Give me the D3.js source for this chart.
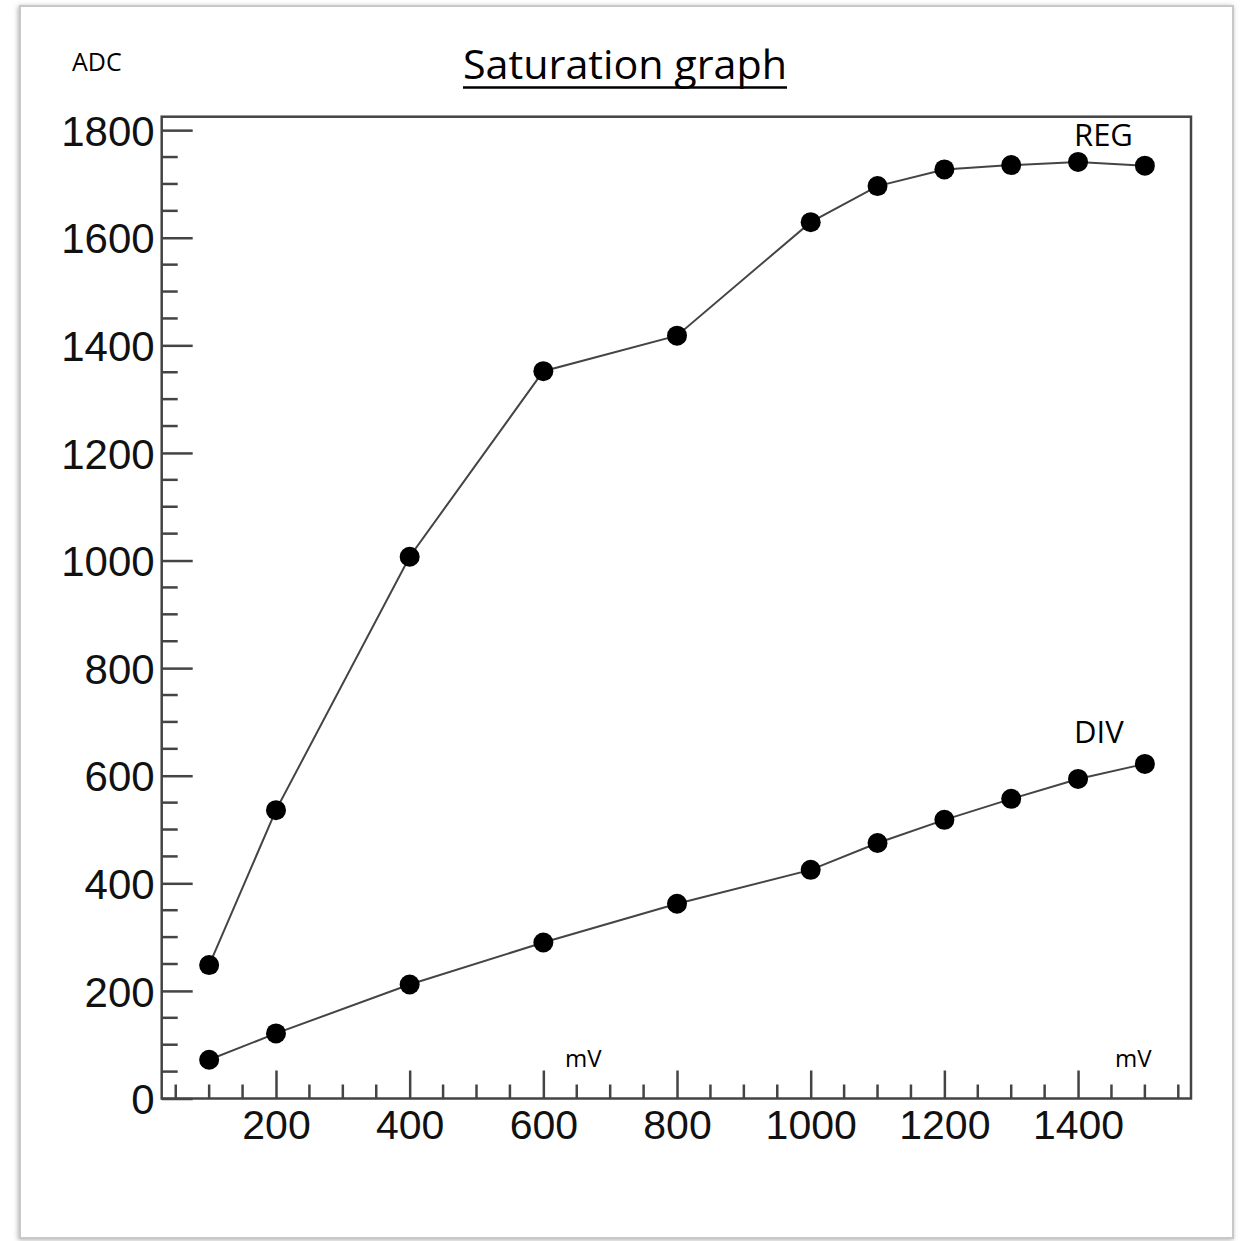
<!DOCTYPE html>
<html>
<head>
<meta charset="utf-8">
<script src="https://cdn.jsdelivr.net/npm/d3@7"></script>
<style>
  html, body { margin: 0; padding: 0; background: #fff; }
  svg { display: block; }
</style>
</head>
<body>
<svg id="svg" width="1245" height="1241"></svg>
<script>
// input voltage (mV)
const voltages = [100, 200, 400, 600, 800, 1000, 1100, 1200, 1300, 1400, 1500];
// ADC readings
const regValues = [248, 536, 1007, 1352, 1418, 1629, 1696, 1727, 1735, 1741, 1734];
const divValues = [72, 121, 212, 290, 362, 425, 475, 518, 557, 594, 622];
const xTickLabels = [200, 400, 600, 800, 1000, 1200, 1400];
const yTickLabels = [0, 200, 400, 600, 800, 1000, 1200, 1400, 1600, 1800];

const svg = d3.select('#svg');

// outer card with soft shadow
const defs = svg.append('defs');
const f = defs.append('filter').attr('id', 'shadow')
  .attr('x', '-5%').attr('y', '-5%').attr('width', '110%').attr('height', '110%');
f.append('feDropShadow').attr('dx', -1).attr('dy', 1).attr('stdDeviation', 2.5)
  .attr('flood-color', '#000').attr('flood-opacity', 0.3);

svg.append('rect')
  .attr('x', 20).attr('y', 6).attr('width', 1213).attr('height', 1232)
  .attr('fill', '#fff').attr('stroke', '#c8c8c8').attr('stroke-width', 2)
  .attr('filter', 'url(#shadow)');

const margin = {top: 116.7, right: 54, bottom: 142.5, left: 161.7};
const width = 1245 - margin.left - margin.right;
const height = 1241 - margin.top - margin.bottom;

const g = svg.append('g')
  .attr('transform', 'translate(' + margin.left + ',' + margin.top + ')');

const x = d3.scaleLinear().domain([29, 1569]).range([0, width]);
const y = d3.scaleLinear().domain([0, 1825]).range([height, 0]);

const axisColor = '#444';
const numFont = '"Liberation Sans", Arial, sans-serif';

// frame
g.append('rect')
  .attr('width', width).attr('height', height)
  .attr('fill', 'none').attr('stroke', axisColor).attr('stroke-width', 2.5);

// minor ticks every 50
const xMinor = d3.range(50, 1569, 50).filter(v => v % 200 !== 0);
const yMinor = d3.range(50, 1825, 50).filter(v => v % 200 !== 0);

g.append('g').selectAll('line').data(xMinor).enter().append('line')
  .attr('x1', d => x(d)).attr('x2', d => x(d))
  .attr('y1', height).attr('y2', height - 14)
  .attr('stroke', axisColor).attr('stroke-width', 2.5);

g.append('g').selectAll('line').data(yMinor).enter().append('line')
  .attr('y1', d => y(d)).attr('y2', d => y(d))
  .attr('x1', 0).attr('x2', 16)
  .attr('stroke', axisColor).attr('stroke-width', 2.5);

// major axes
const fmt = d3.format('d');
const xAxis = g.append('g')
  .attr('transform', 'translate(0,' + height + ')')
  .call(d3.axisBottom(x).tickValues(xTickLabels).tickFormat(fmt)
    .tickSizeInner(-28).tickSizeOuter(0).tickPadding(0));
xAxis.select('.domain').remove();
xAxis.selectAll('.tick line').attr('stroke', axisColor).attr('stroke-width', 2.5);
xAxis.selectAll('.tick text')
  .attr('y', 40).attr('dy', 0)
  .style('font-family', numFont).style('font-size', '41px').attr('fill', '#111');

const yAxis = g.append('g')
  .call(d3.axisLeft(y).tickValues(yTickLabels).tickFormat(fmt)
    .tickSizeInner(-31).tickSizeOuter(0).tickPadding(0));
yAxis.select('.domain').remove();
yAxis.selectAll('.tick line').attr('stroke', axisColor).attr('stroke-width', 2.5);
yAxis.selectAll('.tick text')
  .attr('x', -7).attr('dy', '0.36em')
  .style('font-family', numFont).style('font-size', '42px').attr('fill', '#111');

// series
const line = d3.line().x(d => x(d[0])).y(d => y(d[1]));
const series = [regValues, divValues];

series.forEach(vals => {
  const pts = voltages.map((v, i) => [v, vals[i]]);
  g.append('path').datum(pts)
    .attr('d', line).attr('fill', 'none')
    .attr('stroke', '#444').attr('stroke-width', 2);
  g.append('g').selectAll('circle').data(pts).enter().append('circle')
    .attr('cx', d => x(d[0])).attr('cy', d => y(d[1]))
    .attr('r', 10).attr('fill', '#000');
});

// texts
const textFont = '"Open Sans", "Noto Sans", sans-serif';

const title = svg.append('text')
  .attr('x', 625).attr('y', 79).attr('text-anchor', 'middle')
  .style('font-family', textFont).style('font-size', '40px').attr('fill', '#000')
  .attr('textLength', 324).attr('lengthAdjust', 'spacingAndGlyphs')
  .text('Saturation graph');
svg.append('line')
  .attr('x1', 463).attr('x2', 787)
  .attr('y1', 87.5).attr('y2', 87.5)
  .attr('stroke', '#000').attr('stroke-width', 2.5);

svg.append('text')
  .attr('x', 72).attr('y', 71)
  .style('font-family', textFont).style('font-size', '25px').attr('fill', '#000')
  .text('ADC');

svg.append('text')
  .attr('x', 1074).attr('y', 146)
  .style('font-family', textFont).style('font-size', '31px').attr('fill', '#000')
  .text('REG');

svg.append('text')
  .attr('x', 1074).attr('y', 742.7)
  .style('font-family', textFont).style('font-size', '31px').attr('fill', '#000')
  .text('DIV');

svg.append('text')
  .attr('x', 565).attr('y', 1066.7)
  .style('font-family', textFont).style('font-size', '24px').attr('fill', '#000')
  .text('mV');

svg.append('text')
  .attr('x', 1115).attr('y', 1066.7)
  .style('font-family', textFont).style('font-size', '24px').attr('fill', '#000')
  .text('mV');
</script>
</body>
</html>
